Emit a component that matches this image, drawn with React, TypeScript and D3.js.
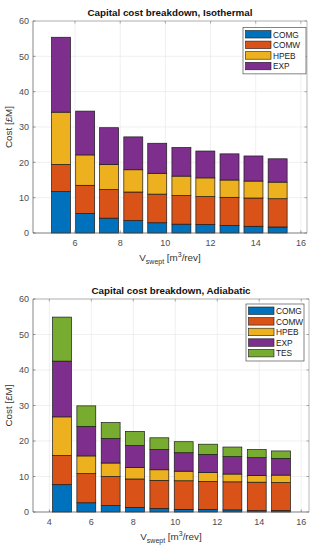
import * as d3 from "d3";

const keys = ["COMG", "COMW", "HPEB", "EXP", "TES"];
const colors = ["#0072BD", "#D95319", "#EDB120", "#7E2F8E", "#77AC30"];

// isothermal case
const isoV = [5.38, 6.45, 7.51, 8.58, 9.64, 10.71, 11.77, 12.84, 13.9, 14.97];
const isoCOMG = [11.7, 5.5, 4.2, 3.5, 2.9, 2.5, 2.4, 2.1, 1.9, 1.7];
const isoCOMW = [7.7, 8.0, 8.1, 8.1, 8.1, 8.1, 7.9, 8.0, 8.0, 8.0];
const isoHPEB = [14.8, 8.6, 7.1, 6.3, 5.9, 5.5, 5.3, 4.9, 4.8, 4.7];
const isoEXP = [21.2, 12.4, 10.4, 9.3, 8.5, 8.1, 7.6, 7.4, 7.1, 6.6];

// adiabatic case
const adiV = [4.6, 5.76, 6.92, 8.08, 9.24, 10.4, 11.56, 12.72, 13.88, 15.04];
const adiCOMG = [7.7, 2.6, 1.8, 1.3, 1.0, 0.75, 0.7, 0.6, 0.4, 0.4];
const adiCOMW = [8.2, 8.2, 8.2, 8.0, 7.9, 8.05, 7.9, 7.9, 8.0, 7.9];
const adiHPEB = [10.9, 5.0, 3.8, 3.2, 3.0, 2.7, 2.5, 2.2, 1.9, 2.1];
const adiEXP = [15.7, 8.3, 6.9, 6.2, 5.7, 5.2, 5.1, 4.9, 5.0, 4.7];
const adiTES = [12.4, 5.8, 4.5, 4.0, 3.3, 3.1, 2.9, 2.7, 2.3, 2.1];

const yTicks = [0, 10, 20, 30, 40, 50, 60];
const isoXTicks = [6, 8, 10, 12, 14, 16];
const adiXTicks = [4, 6, 8, 10, 12, 14, 16];

const font = "'Liberation Sans', Arial, sans-serif";

type PanelProps = {
  top: number;
  left: number;
  right: number;
  bottom: number;
  xDomain: [number, number];
  xTicks: number[];
  xs: number[];
  series: number[][];
  barW: number;
  title: string;
  legend: { x: number; y: number; w: number };
};

function Panel(p: PanelProps) {
  const x = d3.scaleLinear().domain(p.xDomain).range([p.left, p.right]);
  const y = d3.scaleLinear().domain([0, 60]).range([p.bottom, p.top]);
  const n = p.series.length;
  const rows = p.xs.map((v, i) => {
    const r: Record<string, number> = { v };
    p.series.forEach((s, k) => (r[keys[k]] = s[i]));
    return r;
  });
  const stacked = d3.stack<Record<string, number>>().keys(keys.slice(0, n))(rows);
  const bw = x(p.barW) - x(0);
  const cx = (p.left + p.right) / 2;
  const rowH = 10.6;

  return (
    <g>
      <rect x={p.left} y={p.top} width={p.right - p.left} height={p.bottom - p.top} fill="#fff" />
      {yTicks.map((t) => (
        <line key={"gy" + t} x1={p.left} x2={p.right} y1={y(t)} y2={y(t)} stroke="#e6e6e6" strokeWidth={0.6} />
      ))}
      {p.xTicks.map((t) => (
        <line key={"gx" + t} x1={x(t)} x2={x(t)} y1={p.top} y2={p.bottom} stroke="#e6e6e6" strokeWidth={0.6} />
      ))}
      {stacked.map((layer, k) =>
        layer.map((d, i) => (
          <rect
            key={k + "-" + i}
            x={x(p.xs[i]) - bw / 2}
            y={y(d[1])}
            width={bw}
            height={y(d[0]) - y(d[1])}
            fill={colors[k]}
            stroke="#1a1a1a"
            strokeWidth={0.7}
          />
        ))
      )}
      {/* box */}
      <line x1={p.left} x2={p.right} y1={p.top} y2={p.top} stroke="#8a8a8a" strokeWidth={0.6} />
      <line x1={p.right} x2={p.right} y1={p.top} y2={p.bottom} stroke="#8a8a8a" strokeWidth={0.6} />
      <line x1={p.left} x2={p.left} y1={p.top} y2={p.bottom} stroke="#555" strokeWidth={0.7} />
      <line x1={p.left} x2={p.right} y1={p.bottom} y2={p.bottom} stroke="#555" strokeWidth={0.7} />
      {yTicks.map((t) => (
        <g key={"ty" + t}>
          <line x1={p.left} x2={p.left + 2.5} y1={y(t)} y2={y(t)} stroke="#555" strokeWidth={0.6} />
          <line x1={p.right} x2={p.right - 2.5} y1={y(t)} y2={y(t)} stroke="#777" strokeWidth={0.6} />
          <text x={p.left - 4} y={y(t) + 3.2} textAnchor="end" fontSize={9} fill="#4d4d4d">
            {t}
          </text>
        </g>
      ))}
      {p.xTicks.map((t) => (
        <g key={"tx" + t}>
          <line x1={x(t)} x2={x(t)} y1={p.bottom} y2={p.bottom - 2.5} stroke="#555" strokeWidth={0.6} />
          <line x1={x(t)} x2={x(t)} y1={p.top} y2={p.top + 2.5} stroke="#777" strokeWidth={0.6} />
          <text x={x(t)} y={p.bottom + 12.5} textAnchor="middle" fontSize={9} fill="#4d4d4d">
            {t}
          </text>
        </g>
      ))}
      <text x={cx} y={p.top - 5} textAnchor="middle" fontSize={9.8} fontWeight="bold" fill="#111">
        {p.title}
      </text>
      <text x={cx} y={p.bottom + 28} textAnchor="middle" fontSize={9.8} fill="#333">
        V
        <tspan fontSize={7} dy={3}>swept</tspan>
        <tspan dy={-3}> [m</tspan>
        <tspan fontSize={7} dy={-4}>3</tspan>
        <tspan dy={4}>/rev]</tspan>
      </text>
      <text
        transform={`translate(${p.left - 21},${(p.top + p.bottom) / 2}) rotate(-90)`}
        textAnchor="middle"
        fontSize={9.8}
        fill="#333"
      >
        Cost [£M]
      </text>
      <rect
        x={p.legend.x}
        y={p.legend.y}
        width={p.legend.w}
        height={n * rowH + 4}
        fill="#fff"
        stroke="#333"
        strokeWidth={0.6}
      />
      {keys.slice(0, n).map((k, i) => (
        <g key={k}>
          <rect
            x={p.legend.x + 2.5}
            y={p.legend.y + 3 + i * rowH}
            width={25.5}
            height={7.5}
            fill={colors[i]}
            stroke="#1a1a1a"
            strokeWidth={0.6}
          />
          <text x={p.legend.x + 30} y={p.legend.y + 10 + i * rowH} fontSize={8.3} fill="#222">
            {k}
          </text>
        </g>
      ))}
    </g>
  );
}

export default function App() {
  return (
    <svg
      width={318}
      height={550}
      style={{ position: "absolute", left: 0, top: 0, background: "#fff" }}
      fontFamily={font}
    >
      <rect width={318} height={550} fill="#fff" />
      <Panel
        top={21}
        left={33}
        right={307}
        bottom={233}
        xDomain={[4.14, 16.27]}
        xTicks={isoXTicks}
        xs={isoV}
        series={[isoCOMG, isoCOMW, isoHPEB, isoEXP]}
        barW={0.84}
        title="Capital cost breakdown, Isothermal"
        legend={{ x: 243, y: 27.5, w: 63 }}
      />
      <Panel
        top={299}
        left={33}
        right={309}
        bottom={512}
        xDomain={[3.22, 16.37]}
        xTicks={adiXTicks}
        xs={adiV}
        series={[adiCOMG, adiCOMW, adiHPEB, adiEXP, adiTES]}
        barW={0.9}
        title="Capital cost breakdown, Adiabatic"
        legend={{ x: 246, y: 304, w: 58 }}
      />
    </svg>
  );
}
